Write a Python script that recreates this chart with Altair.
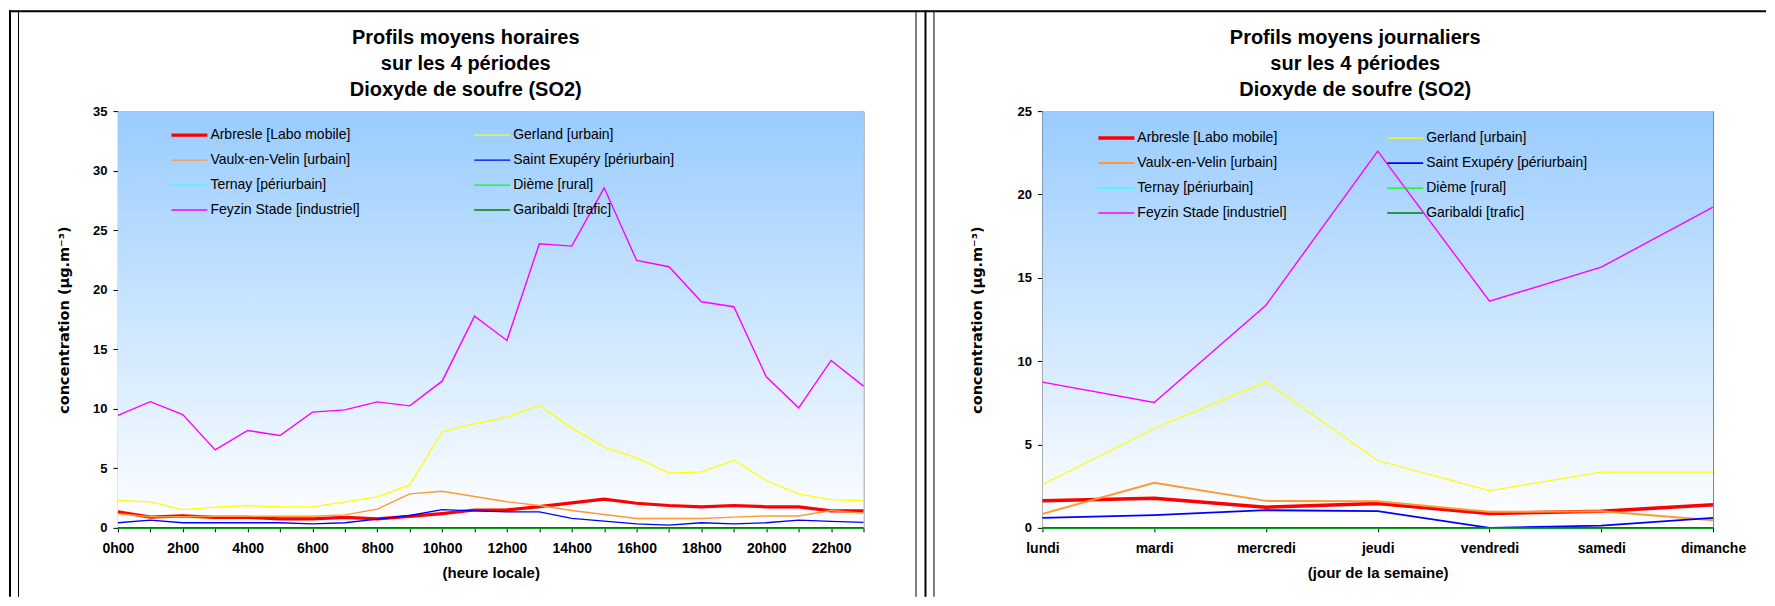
import altair as alt
import pandas as pd

# ---------------- data ----------------
STATIONS = [
    "Arbresle [Labo mobile]", "Gerland [urbain]",
    "Vaulx-en-Velin [urbain]", "Saint Exupéry [périurbain]",
    "Ternay [périurbain]", "Dième [rural]",
    "Feyzin Stade [industriel]", "Garibaldi [trafic]",
]
COLORS = ["#FF0000", "#FFFF00", "#FF9933", "#0000FF",
          "#33FFFF", "#00FF00", "#FF00FF", "#008000"]

HOURS = [0, 1, 2, 3, 4, 5, 6, 7, 8, 9, 10, 11,
         12, 13, 14, 15, 16, 17, 18, 19, 20, 21, 22, 23]
arbresle_h = [1.35, 0.90, 1.00, 0.88, 0.88, 0.76, 0.76, 0.88, 0.76, 0.96, 1.20, 1.50,
              1.51, 1.79, 2.10, 2.41, 2.07, 1.88, 1.77, 1.88, 1.77, 1.77, 1.43, 1.43]
gerland_h = [2.30, 2.19, 1.54, 1.74, 1.88, 1.77, 1.77, 2.19, 2.61, 3.61, 8.07, 8.74,
             9.30, 10.28, 8.40, 6.78, 5.88, 4.60, 4.70, 5.69, 3.98, 2.86, 2.38, 2.30]
vaulx_h = [1.18, 0.93, 0.93, 0.98, 0.98, 0.98, 0.98, 1.09, 1.57, 2.86, 3.08, 2.63,
           2.19, 1.88, 1.46, 1.12, 0.79, 0.79, 0.79, 0.90, 1.00, 1.00, 1.46, 1.23]
stexupery_h = [0.43, 0.65, 0.43, 0.43, 0.43, 0.43, 0.34, 0.43, 0.74, 1.04, 1.54, 1.43,
               1.35, 1.35, 0.79, 0.57, 0.34, 0.23, 0.43, 0.34, 0.43, 0.65, 0.54, 0.46]
ternay_h = [0, 0, 0, 0, 0, 0, 0, 0, 0, 0, 0, 0, 0, 0, 0, 0, 0, 0, 0, 0, 0, 0, 0, 0]
dieme_h = [0, 0, 0, 0, 0, 0, 0, 0, 0, 0, 0, 0, 0, 0, 0, 0, 0, 0, 0, 0, 0, 0, 0, 0]
feyzin_h = [9.44, 10.60, 9.52, 6.55, 8.18, 7.76, 9.72, 9.91, 10.58, 10.25, 12.32, 17.78,
            15.74, 23.86, 23.66, 28.56, 22.46, 21.93, 18.99, 18.57, 12.69, 10.08, 14.06, 11.90]
garibaldi_h = [0, 0, 0, 0, 0, 0, 0, 0, 0, 0, 0, 0, 0, 0, 0, 0, 0, 0, 0, 0, 0, 0, 0, 0]

DAYS = ["lundi", "mardi", "mercredi", "jeudi", "vendredi", "samedi", "dimanche"]
arbresle_d = [1.62, 1.78, 1.24, 1.46, 0.86, 1.00, 1.38]
gerland_d = [2.60, 5.96, 8.76, 4.04, 2.24, 3.34, 3.34]
vaulx_d = [0.84, 2.70, 1.62, 1.60, 0.96, 1.00, 0.46]
stexupery_d = [0.60, 0.76, 1.06, 1.00, 0.00, 0.14, 0.60]
ternay_d = [0, 0, 0, 0, 0, 0, 0]
dieme_d = [0, 0, 0, 0, 0, 0, 0]
feyzin_d = [8.74, 7.52, 13.36, 22.60, 13.60, 15.64, 19.24]
garibaldi_d = [0, 0, 0, 0, 0, 0, 0]

Y_TICKS_H = [0, 5, 10, 15, 20, 25, 30, 35]
Y_TICKS_D = [0, 5, 10, 15, 20, 25]

TITLE_H = ["Profils moyens horaires", "sur les 4 périodes", "Dioxyde de soufre (SO2)"]
TITLE_D = ["Profils moyens journaliers", "sur les 4 périodes", "Dioxyde de soufre (SO2)"]
Y_TITLE = "concentration (µg.m⁻³)"

hourly_series = [arbresle_h, gerland_h, vaulx_h, stexupery_h,
                 ternay_h, dieme_h, feyzin_h, garibaldi_h]
daily_series = [arbresle_d, gerland_d, vaulx_d, stexupery_d,
                ternay_d, dieme_d, feyzin_d, garibaldi_d]

hourly = pd.DataFrame([
    {"station": s, "heure": h, "valeur": v}
    for s, vals in zip(STATIONS, hourly_series)
    for h, v in zip(HOURS, vals)
])
daily = pd.DataFrame([
    {"station": s, "jour": d, "valeur": v}
    for s, vals in zip(STATIONS, daily_series)
    for d, v in zip(DAYS, vals)
])

# ---------------- styling ----------------
FONT = "Liberation Sans"
W_L, W_R, H = 746, 671, 417
DUMMY = pd.DataFrame({"d": [0]})

gradient = alt.LinearGradient(
    gradient="linear", x1=0, x2=0, y1=0, y2=1,
    stops=[alt.GradientStop(color="#99CCFF", offset=0),
           alt.GradientStop(color="#FFFFFF", offset=1)],
)


def background(w):
    return alt.Chart(DUMMY).mark_rect(fill=gradient).encode(
        x=alt.value(0), x2=alt.value(w), y=alt.value(0), y2=alt.value(H))


def frame_bar(x1, x2, y1, y2):
    # panel frame line drawn as a thin filled black bar
    return alt.Chart(DUMMY).mark_rect(fill="black", strokeWidth=0).encode(
        x=alt.value(x1), x2=alt.value(x2), y=alt.value(y1), y2=alt.value(y2))


def legend(lx, ly, colpad):
    return alt.Legend(
        orient="none", legendX=lx, legendY=ly, columns=2, direction="horizontal",
        columnPadding=colpad, rowPadding=11, padding=0, title=None,
        symbolType="M-3.6,0L3.6,0", symbolSize=100, labelOffset=14,
        labelFont=FONT, labelFontSize=14, labelColor="black", labelLimit=300,
    )


def y_axis(ticks, tpad):
    return alt.Axis(
        values=ticks, tickSize=5, labelPadding=6, labelFont=FONT,
        labelFontSize=13, labelFontWeight="bold", title=Y_TITLE,
        titleFont="DejaVu Sans", titleFontSize=14.5, titleFontWeight="bold",
        titlePadding=tpad, grid=False,
    )


def title(lines, dx):
    return alt.TitleParams(
        text=lines, font=FONT, fontSize=20, fontWeight="bold", lineHeight=26,
        anchor="middle", frame="group", dx=dx, offset=-90, color="black",
    )


# ---------------- left chart ----------------
leg_l = legend(64.5, 17, 111)
lines_h = alt.Chart(hourly).mark_line().encode(
    x=alt.X("heure:Q", scale=alt.Scale(domain=[0, 23], nice=False),
            axis=alt.Axis(values=HOURS, tickSize=4, labelPadding=10,
                          labelExpr="datum.value % 2 == 0 ? datum.value + 'h00' : ''",
                          labelFlush=False, labelOverlap=False, labelFont=FONT,
                          labelFontSize=14, labelFontWeight="bold",
                          title="(heure locale)", titleFont=FONT, titleFontSize=15,
                          titleFontWeight="bold", titlePadding=10, grid=False)),
    y=alt.Y("valeur:Q", scale=alt.Scale(domain=[0, 35], nice=False),
            axis=y_axis(Y_TICKS_H, 21)),
    color=alt.Color("station:N", scale=alt.Scale(domain=STATIONS, range=COLORS),
                    sort=STATIONS, legend=leg_l),
    strokeWidth=alt.StrokeWidth("station:N",
                                scale=alt.Scale(type="ordinal", domain=STATIONS,
                                                range=[3.2, 1.3, 1.4, 1.3, 1.3, 1.3, 1.4, 1.5]),
                                sort=STATIONS, legend=leg_l),
)

left = alt.layer(
    background(W_L),
    frame_bar(-109, 817, -101, -99),      # top frame line
    frame_bar(-109, -107, -101, 486),     # outer left border (thick)
    frame_bar(-100, -99, -101, 486),      # inner left border (thin)
    frame_bar(798, 799, -101, 486),       # middle separator (thin)
    frame_bar(807, 809, -101, 486),       # middle separator (thick)
    frame_bar(816, 817, -101, 486),       # middle separator (thin)
    lines_h,
).properties(width=W_L, height=H, title=title(TITLE_H, -25))

# ---------------- right chart ----------------
leg_r = legend(67, 20, 96)
lines_d = alt.Chart(daily).mark_line().encode(
    x=alt.X("jour:N", sort=DAYS, scale=alt.Scale(type="point", padding=0),
            axis=alt.Axis(labelAngle=0, ticks=True, tickSize=4, labelPadding=10,
                          labelFont=FONT, labelFontSize=14, labelFontWeight="bold",
                          title="(jour de la semaine)", titleFont=FONT,
                          titleFontSize=15, titleFontWeight="bold", titlePadding=10,
                          grid=False)),
    y=alt.Y("valeur:Q", scale=alt.Scale(domain=[0, 25], nice=False),
            axis=y_axis(Y_TICKS_D, 32)),
    color=alt.Color("station:N", scale=alt.Scale(domain=STATIONS, range=COLORS),
                    sort=STATIONS, legend=leg_r),
    strokeWidth=alt.StrokeWidth("station:N",
                                scale=alt.Scale(type="ordinal", domain=STATIONS,
                                                range=[3.5, 1.3, 2, 1.8, 1.3, 1.3, 1.4, 1.5]),
                                sort=STATIONS, legend=leg_r),
)

right = alt.layer(
    background(W_R),
    frame_bar(-108, 724, -101, -99),      # top frame line (right part)
    lines_d,
).properties(width=W_R, height=H, title=title(TITLE_D, -22.5))

chart = alt.hconcat(left, right, spacing=179, bounds="flush").resolve_scale(
    x="independent", y="independent", color="independent", strokeWidth="independent"
).properties(
    padding={"left": 0, "top": 1, "right": 0, "bottom": 0},
).configure_axis(
    labelColor="black", titleColor="black", tickColor="black",
    domainColor="black", domainWidth=1,
).configure_view(stroke="#808080", strokeWidth=1)

chart.save("out.html", embed_options={"renderer": "svg", "actions": False})
